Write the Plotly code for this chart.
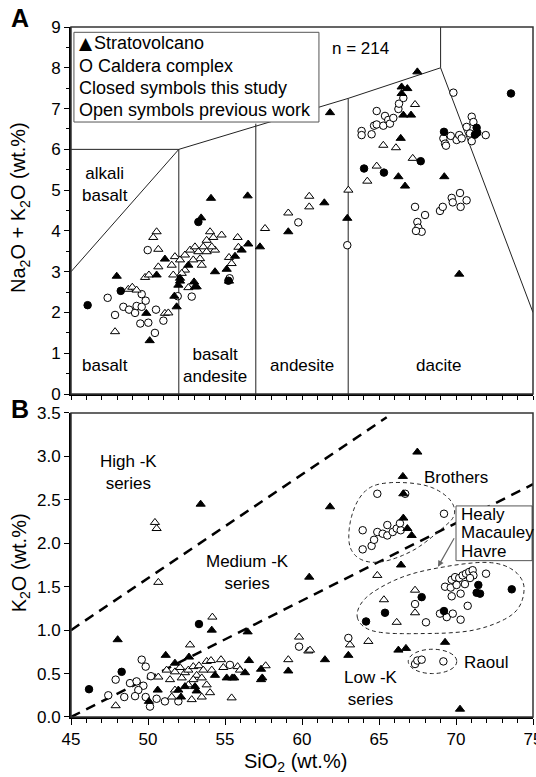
import plotly.graph_objects as go
import numpy as np

# ---------------- Panel A (TAS) data ----------------
A_strato_closed_x = [54.09, 56.47, 47.97, 51.10, 49.89, 50.11, 50.56, 51.86, 51.71, 52.08, 52.08, 52.62, 52.99,
                     53.16, 54.35, 55.11, 55.26, 55.65, 56.08, 56.51, 57.27, 59.11, 61.45, 62.94, 70.21, 67.49,
                     66.47, 66.84, 66.47, 66.58, 67.08, 66.41, 66.26, 66.69, 69.24, 61.82, 53.45, 51.97, 53.05]
A_strato_closed_y = [4.80, 4.86, 2.89, 3.31, 1.98, 1.31, 2.92, 2.14, 2.40, 2.84, 2.77, 3.16, 2.75,
                     2.63, 3.00, 3.06, 2.77, 3.38, 3.53, 3.68, 3.61, 3.98, 4.69, 4.31, 2.94, 7.90,
                     7.53, 7.49, 7.37, 6.84, 6.84, 6.27, 5.33, 5.10, 5.33, 6.90, 4.32, 2.67, 2.63]

A_caldera_closed_x = [46.08, 48.23, 53.27, 55.22, 73.57, 64.03, 65.32, 67.71, 69.22, 71.34, 71.23, 71.38]
A_caldera_closed_y = [2.18, 2.53, 4.22, 2.78, 7.37, 5.53, 5.43, 5.71, 6.43, 6.53, 6.36, 6.41]

A_strato_open_x = [47.86, 48.72, 48.98, 49.26, 50.56, 50.34, 50.67, 49.81, 50.06, 50.67, 51.10, 51.32,
                   51.54, 51.75, 52.08, 52.40, 52.73, 53.05, 53.27, 53.59, 53.81, 54.03, 54.24, 54.78,
                   53.38, 53.49, 53.81, 54.35, 52.40, 51.64, 52.62, 55.43, 55.82, 55.87, 55.26, 52.19,
                   52.94, 54.14, 57.60, 59.11, 60.47, 60.47, 63.01, 67.34, 65.28, 66.10, 67.19, 64.85, 64.24]
A_strato_open_y = [1.53, 2.57, 2.62, 2.55, 3.98, 3.84, 3.55, 2.86, 2.92, 3.12, 1.98, 1.99,
                   3.16, 3.37, 3.29, 3.41, 3.53, 3.61, 3.49, 3.61, 3.77, 3.98, 3.84, 3.90,
                   3.32, 3.16, 3.49, 3.53, 3.04, 2.92, 2.61, 3.20, 3.84, 3.60, 3.35, 2.96,
                   3.29, 3.61, 4.06, 4.44, 4.85, 4.59, 5.00, 7.10, 6.10, 6.04, 5.78, 5.59, 5.22]

A_caldera_open_x = [47.38, 47.86, 48.40, 48.77, 49.16, 49.26, 49.59, 49.59, 49.85, 49.50, 50.02, 50.52,
                    51.00, 50.45, 49.98, 51.93, 52.84, 55.30, 59.76, 62.94,
                    69.83, 64.85, 63.87, 63.87, 64.52, 64.68, 64.85, 65.28, 65.39, 65.60, 65.71, 65.93,
                    66.26, 66.30, 66.58,
                    69.18, 69.29, 69.35, 69.66, 70.04, 70.21, 70.37, 70.69, 70.91, 71.02, 71.13, 71.02, 71.93,
                    67.34, 67.99, 67.49, 67.55, 67.77, 67.40, 68.96, 69.14, 69.72, 69.79, 70.26, 70.30, 70.69]
A_caldera_open_y = [2.36, 1.94, 2.14, 2.07, 1.99, 2.16, 2.45, 2.14, 2.29, 1.73, 1.75, 2.07,
                    1.80, 1.50, 3.53, 2.40, 2.39, 2.84, 4.21, 3.65,
                    7.39, 6.94, 6.45, 6.35, 6.37, 6.58, 6.61, 6.58, 6.82, 6.72, 6.63, 6.77,
                    6.99, 7.12, 7.26,
                    6.27, 6.14, 6.09, 6.33, 6.23, 6.35, 6.27, 6.55, 6.39, 6.80, 6.67, 6.20, 6.35,
                    4.59, 4.39, 4.22, 4.08, 3.98, 4.00, 4.49, 4.59, 4.81, 4.70, 4.93, 4.59, 4.75]

# ---------------- Panel B (K2O) data ----------------
B_strato_closed_x = [48.03, 54.14, 56.47, 51.15, 51.75, 52.66, 50.63, 50.06, 51.97, 52.14, 52.40, 53.05, 53.16,
                     54.35, 55.11, 55.47, 55.60, 56.30, 56.56, 57.34, 57.34, 59.11, 57.42,
                     66.55, 66.58, 61.82, 66.58, 66.84, 67.12, 66.43, 60.47, 61.49, 63.01, 66.26, 66.75,
                     69.29, 70.26, 67.49, 53.42]
B_strato_closed_y = [0.89, 1.00, 0.98, 0.71, 0.62, 0.69, 0.31, 0.18, 0.31, 0.23, 0.35, 0.35, 0.30,
                     0.48, 0.45, 0.45, 0.45, 0.51, 0.65, 0.55, 0.43, 0.53, 0.45,
                     2.77, 2.57, 2.42, 2.29, 2.17, 2.09, 1.75, 1.61, 0.66, 0.71, 0.77, 0.79,
                     0.86, 0.09, 3.05, 2.45]

B_caldera_closed_x = [46.17, 48.29, 53.31, 64.16, 65.39, 67.77, 69.22, 71.45, 71.34, 71.56, 73.62]
B_caldera_closed_y = [0.32, 0.52, 1.07, 1.10, 1.20, 1.38, 1.22, 1.52, 1.43, 1.42, 1.47]

B_strato_open_x = [47.90, 52.73, 54.18, 55.43, 54.03, 53.49, 52.84, 59.81, 59.11, 60.41, 57.64,
                   50.67, 51.21, 51.75, 52.08, 52.40, 52.62, 52.94, 53.16, 53.31, 53.59, 53.81, 54.09,
                   54.14, 54.74, 54.89, 55.82, 55.97, 51.75, 52.19, 52.94, 53.49, 53.81, 51.43, 52.62, 51.54,
                   64.89, 65.32, 66.15, 67.34, 67.34, 63.12, 64.31, 60.52, 50.45, 50.56, 50.67]
B_strato_open_y = [0.13, 0.83, 1.15, 0.22, 0.28, 0.23, 0.20, 0.92, 0.66, 0.76, 0.59,
                   0.46, 0.54, 0.52, 0.57, 0.51, 0.54, 0.58, 0.48, 0.59, 0.54, 0.64, 0.65,
                   0.54, 0.66, 0.57, 0.58, 0.54, 0.31, 0.45, 0.43, 0.45, 0.37, 0.43, 0.37, 0.23,
                   1.63, 1.35, 1.09, 1.46, 1.20, 0.83, 0.87, 0.77, 2.24, 2.17, 1.55]

B_caldera_open_x = [47.90, 47.42, 48.46, 49.59, 49.85, 48.83, 49.26, 49.70, 49.37, 49.16, 49.85, 50.13,
                    50.56, 51.10, 50.19, 51.97, 55.32, 59.81,
                    64.89, 69.22, 63.94, 63.94, 64.52, 64.68, 64.89, 65.24, 65.54, 65.54, 65.89, 66.15,
                    66.41, 66.36, 66.70,
                    69.29, 69.66, 69.72, 69.94, 70.21, 70.43, 70.65, 70.86, 71.08, 71.13, 70.91, 70.58,
                    70.04, 71.95, 69.72, 70.30, 70.76, 68.96, 69.40, 69.79, 70.30, 68.05, 67.34,
                    67.34, 67.49, 67.77, 69.18, 63.01]
B_caldera_open_y = [0.43, 0.25, 0.23, 0.66, 0.58, 0.39, 0.41, 0.36, 0.31, 0.24, 0.23, 0.12,
                    0.21, 0.18, 0.47, 0.18, 0.60, 0.81,
                    2.57, 2.34, 2.15, 1.93, 1.97, 2.04, 2.13, 2.11, 2.21, 2.09, 2.13, 2.17,
                    2.15, 2.23, 2.57,
                    1.50, 1.49, 1.58, 1.61, 1.60, 1.63, 1.65, 1.67, 1.69, 1.63, 1.60, 1.53,
                    1.52, 1.65, 1.39, 1.42, 1.28, 1.19, 1.15, 1.19, 1.12, 1.09, 1.30,
                    0.61, 0.65, 0.66, 0.64, 0.91]

FONT = "Liberation Sans, Arial, Helvetica, sans-serif"

fig = go.Figure()


def add_series(x, y, symbol, filled, xa, ya):
    fig.add_trace(go.Scatter(
        x=x, y=y, mode="markers", xaxis=xa, yaxis=ya, showlegend=False,
        marker=dict(symbol=symbol, size=7.5 if symbol == "circle" else 8,
                    color="black" if filled else "white",
                    line=dict(color="black", width=1))))


for xa, ya, data in [
    ("x", "y", [(A_caldera_open_x, A_caldera_open_y, "circle", False),
                (A_strato_open_x, A_strato_open_y, "triangle-up", False),
                (A_caldera_closed_x, A_caldera_closed_y, "circle", True),
                (A_strato_closed_x, A_strato_closed_y, "triangle-up", True)]),
    ("x2", "y2", [(B_caldera_open_x, B_caldera_open_y, "circle", False),
                  (B_strato_open_x, B_strato_open_y, "triangle-up", False),
                  (B_caldera_closed_x, B_caldera_closed_y, "circle", True),
                  (B_strato_closed_x, B_strato_closed_y, "triangle-up", True)])]:
    for (x, y, s, f) in data:
        add_series(x, y, s, f, xa, ya)

shapes = []
# TAS field boundaries (panel A)
tas_lines = [
    (45, 3, 52, 6), (45, 6, 52, 6), (52, 0, 52, 6), (57, 0, 57, 6.63), (63, 0, 63, 7.25),
    (52, 6, 63, 7.25), (63, 7.25, 69, 8), (69, 8, 69, 9), (69, 8, 75, 2),
]
for x0, y0, x1, y1 in tas_lines:
    shapes.append(dict(type="line", xref="x", yref="y", x0=x0, y0=y0, x1=x1, y1=y1,
                       line=dict(color="#222", width=1), layer="below"))
# legend box (panel A)
shapes.append(dict(type="rect", xref="x", yref="y", x0=45.19, x1=61.1, y0=6.67, y1=8.87,
                   line=dict(color="#555", width=1), fillcolor="white", layer="above"))

# Panel B series boundaries
shapes.append(dict(type="line", xref="x2", yref="y2", x0=45, y0=1.0, x1=65.5, y1=3.45,
                   line=dict(color="black", width=2.5, dash="10px,7px"), layer="below"))
shapes.append(dict(type="line", xref="x2", yref="y2", x0=45, y0=0.0, x1=75, y1=2.68,
                   line=dict(color="black", width=2.5, dash="10px,7px"), layer="below"))


def smooth_closed(pts, n=14):
    N = len(pts)
    out = []
    for i in range(N):
        p0, p1, p2, p3 = pts[i - 1], pts[i], pts[(i + 1) % N], pts[(i + 2) % N]
        for t in np.linspace(0, 1, n, endpoint=False):
            t2, t3 = t * t, t * t * t
            c = []
            for k in range(2):
                c.append(0.5 * (2 * p1[k] + (-p0[k] + p2[k]) * t +
                                (2 * p0[k] - 5 * p1[k] + 4 * p2[k] - p3[k]) * t2 +
                                (-p0[k] + 3 * p1[k] - 3 * p2[k] + p3[k]) * t3))
            out.append(c)
    return "M " + " L ".join(f"{a:.3f},{b:.3f}" for a, b in out) + " Z"


brothers_outline = [(66.36, 2.70), (64.63, 2.66), (63.66, 2.50), (63.12, 2.23), (63.12, 1.96),
                    (63.88, 1.81), (65.28, 1.79), (67.23, 1.92), (68.96, 2.15), (69.87, 2.32),
                    (69.61, 2.50), (68.31, 2.65)]
healy_outline = [(63.59, 1.15), (64.63, 0.99), (67.45, 0.96), (71.13, 1.00), (73.72, 1.19),
                 (74.42, 1.48), (73.72, 1.69), (71.99, 1.78), (68.96, 1.72), (66.36, 1.60),
                 (64.20, 1.38)]
for outline in (brothers_outline, healy_outline):
    shapes.append(dict(type="path", xref="x2", yref="y2", path=smooth_closed(outline),
                       line=dict(color="#222", width=1, dash="4px,3px"), layer="below"))
shapes.append(dict(type="circle", xref="x2", yref="y2", x0=66.9, x1=70.05, y0=0.50, y1=0.78,
                   line=dict(color="#222", width=1, dash="4px,3px"), layer="below"))
# Healy box
shapes.append(dict(type="rect", xref="x2", yref="y2", x0=70.0, x1=74.94, y0=1.80, y1=2.43,
                   line=dict(color="#555", width=1), fillcolor="white", layer="above"))
# thin frames top/right
for xd, yd in (("x domain", "y domain"), ("x2 domain", "y2 domain")):
    shapes.append(dict(type="rect", xref=xd, yref=yd, x0=0, x1=1, y0=0, y1=1,
                       line=dict(color="#333", width=1.5), layer="above"))

ann = []


def txt(x, y, s, xref="x", yref="y", size=17, xanchor="left", family=FONT, **kw):
    ann.append(dict(x=x, y=y, xref=xref, yref=yref, text=s, showarrow=False, xanchor=xanchor,
                    yanchor="middle", font=dict(family=family, size=size, color="black"), **kw))


# Panel A legend texts
txt(45.36, 8.62, "▲", size=17, family="DejaVu Sans")
txt(46.35, 8.60, "Stratovolcano", size=18)
txt(45.39, 8.04, "O Caldera complex", size=18)
txt(45.39, 7.50, "Closed symbols this study", size=18)
txt(45.39, 6.96, "Open symbols previous work", size=18)
txt(63.77, 8.48, "n = 214", xanchor="center")
txt(45.58, 5.15, "alkali<br>basalt")
txt(45.58, 0.69, "basalt")
txt(52.14, 0.69, "basalt<br>andesite")
txt(57.8, 0.71, "andesite")
txt(67.27, 0.71, "dacite")

# Panel B texts
txt(46.75, 2.82, "High -K<br>series", xref="x2", yref="y2")
txt(53.64, 1.66, "Medium -K<br>series", xref="x2", yref="y2")
txt(62.6, 0.33, "Low -K<br>series", xref="x2", yref="y2")
txt(67.79, 2.76, "Brothers", xref="x2", yref="y2")
txt(70.39, 0.63, "Raoul", xref="x2", yref="y2")
txt(70.2, 2.33, "Healy", xref="x2", yref="y2")
txt(70.2, 2.12, "Macauley", xref="x2", yref="y2")
txt(70.2, 1.90, "Havre", xref="x2", yref="y2")
ann.append(dict(x=68.83, y=1.73, xref="x2", yref="y2", ax=17, ay=-30, text="", showarrow=True,
                arrowhead=2, arrowsize=1, arrowwidth=1.2, arrowcolor="#666"))

# axis titles & panel letters
txt(-0.110, 0.738, "Na<sub>2</sub>O + K<sub>2</sub>O (wt.%)", xref="paper", yref="paper", size=20,
    xanchor="center", textangle=-90)
txt(-0.110, 0.223, "K<sub>2</sub>O (wt.%)", xref="paper", yref="paper", size=20,
    xanchor="center", textangle=-90)
txt(0.487, -0.066, "SiO<sub>2</sub> (wt.%)", xref="paper", yref="paper", size=20, xanchor="center")
txt(-0.110, 1.013, "<b>A</b>", xref="paper", yref="paper", size=25, xanchor="center")
txt(-0.110, 0.446, "<b>B</b>", xref="paper", yref="paper", size=25, xanchor="center")

axis_common = dict(showgrid=False, zeroline=False, showline=True, linecolor="black", linewidth=2,
                   ticks="outside", tickcolor="black", tickwidth=1.3, ticklabeloverflow="allow",
                   automargin=False,
                   tickfont=dict(family=FONT, size=17, color="black"))

fig.update_layout(
    width=536, height=777,
    margin=dict(l=71, r=3, t=27, b=60, autoexpand=False),
    paper_bgcolor="white", plot_bgcolor="white",
    showlegend=False,
    shapes=shapes, annotations=ann,
    xaxis=dict(domain=[0, 1], range=[45, 75], anchor="y", dtick=1, ticklen=4, showticklabels=False,
               **axis_common),
    yaxis=dict(domain=[0.468, 1], range=[0, 9], anchor="x", dtick=1, ticklen=5,
               minor=dict(dtick=0.5, ticks="outside", ticklen=3, tickcolor="black"), **axis_common),
    xaxis2=dict(domain=[0, 1], range=[45, 75], anchor="y2", dtick=5, ticklen=6,
                minor=dict(dtick=1, ticks="outside", ticklen=4, tickcolor="black"), **axis_common),
    yaxis2=dict(domain=[0, 0.4406], range=[0, 3.5], anchor="x2", dtick=0.5, tickformat=".1f",
                ticklen=5, **axis_common),
)

fig.write_html("out.html")
